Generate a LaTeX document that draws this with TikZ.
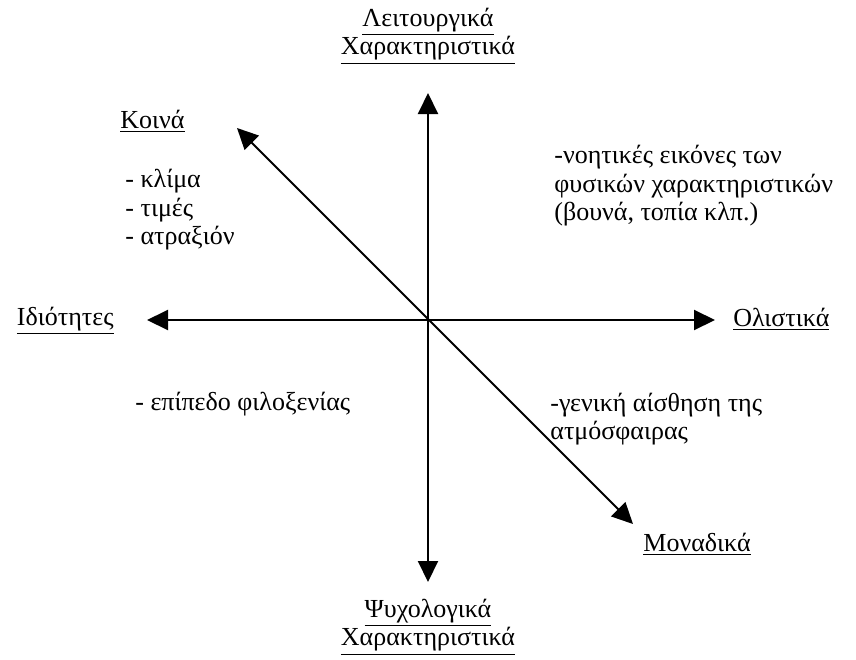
\documentclass[tikz,border=0pt]{standalone}
\usepackage{fontspec}
\setmainfont{Liberation Serif}
\usetikzlibrary{arrows.meta}
\begin{document}
\begin{tikzpicture}[x=0.5pt,y=-0.5pt,
                axis/.style={line width=1pt,{Triangle[length=10.5pt,width=10pt]}-{Triangle[length=10.5pt,width=10pt]}},
                lbl/.style={inner sep=0pt,font=\fontsize{13}{14.25}\selectfont},
                txt/.style={lbl,anchor=west,align=left}]
                \useasboundingbox (0,0) rectangle (856,659);
                \coordinate (o) at (428,320);
                \coordinate (n) at (428,93);
                \coordinate (s) at (428,582);
                \coordinate (w) at (147,320);
                \coordinate (e) at (715,320);
                \coordinate (nw) at (237,128);
                \coordinate (se) at (633,524);
                \draw[axis] (s) -- (n);
                \draw[axis] (w) -- (e);
                \draw[axis] (se) -- (nw);
                \node (top) at (428,36) [lbl,align=center] {\underline{Λειτουργικά}\\\underline{Χαρακτηριστικά}};
                \node (bot) at (428,627) [lbl,align=center] {\underline{Ψυχολογικά}\\\underline{Χαρακτηριστικά}};
                \node (left) at (114,325) [lbl,anchor=base east] {\underline{Ιδιότητες}};
                \node (right) at (733,326) [lbl,anchor=base west] {\underline{Ολιστικά}};
                \node (koina) at (120,128) [lbl,anchor=base west] {\underline{Κοινά}};
                \node (monad) at (643,551) [lbl,anchor=base west] {\underline{Μοναδικά}};
                \node (list) at (125,210) [txt] {- κλίμα\\- τιμές\\- ατραξιόν};
                \node (noet) at (554,186) [txt] {-νοητικές εικόνες των\\φυσικών χαρακτηριστικών\\(βουνά, τοπία κλπ.)};
                \node (filox) at (135,410) [lbl,anchor=base west] {- επίπεδο φιλοξενίας};
                \node (atmo) at (550,419) [txt] {-γενική αίσθηση της\\ατμόσφαιρας};
            \end{tikzpicture}
\end{document}
